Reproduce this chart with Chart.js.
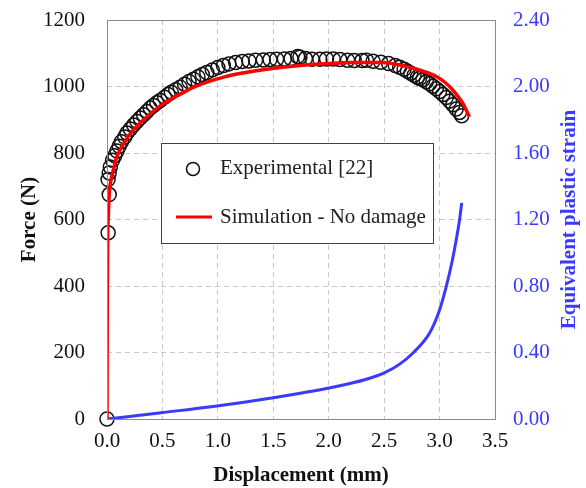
<!DOCTYPE html>
<html>
<head>
<meta charset="utf-8">
<script src="https://cdn.jsdelivr.net/npm/chart.js@4"></script>
<style>
  html, body { margin: 0; padding: 0; background: #fff; }
  #wrap { width: 586px; height: 488px; }
</style>
</head>
<body>
<div id="wrap"><canvas id="chart"></canvas></div>
<script>
// Experimental [22] - force (N) vs displacement (mm)
var expX = [0, 0.01, 0.02, 0.01, 0.02, 0.03, 0.05, 0.07, 0.09, 0.11, 0.13, 0.16, 0.18, 0.21, 0.24, 0.27, 0.30, 0.33, 0.36, 0.39, 0.42, 0.45, 0.48, 0.52, 0.55, 0.58, 0.62, 0.66, 0.70, 0.74, 0.78, 0.82, 0.86, 0.90, 0.95, 1.00, 1.05, 1.10, 1.16, 1.22, 1.28, 1.34, 1.41, 1.47, 1.53, 1.60, 1.66, 1.72, 1.74, 1.79, 1.85, 1.92, 1.98, 2.04, 2.10, 2.17, 2.23, 2.30, 2.34, 2.40, 2.47, 2.54, 2.60, 2.64, 2.68, 2.71, 2.74, 2.77, 2.80, 2.82, 2.85, 2.88, 2.91, 2.94, 2.97, 3.00, 3.03, 3.06, 3.09, 3.12, 3.15, 3.18, 3.20];
var expF = [0, 560, 675, 720, 740, 758, 778, 792, 806, 820, 834, 848, 860, 872, 884, 895, 905, 915, 925, 935, 943, 951, 958, 968, 976, 983, 990, 998, 1007, 1015, 1022, 1029, 1036, 1042, 1050, 1057, 1063, 1068, 1072, 1075, 1077, 1079, 1080, 1081, 1082, 1083, 1084, 1090, 1088, 1084, 1082, 1082, 1083, 1083, 1081, 1079, 1078, 1078, 1079, 1076, 1073, 1069, 1063, 1058, 1052, 1046, 1040, 1034, 1028, 1024, 1020, 1014, 1008, 1001, 993, 985, 976, 967, 956, 945, 932, 922, 912];

// Simulation - No damage
var simX = [0, 0.003, 0.006, 0.012, 0.018, 0.027, 0.04, 0.057, 0.08, 0.117, 0.19, 0.31, 0.49, 0.65, 0.79, 1.06, 1.25, 1.44, 1.74, 2.0, 2.19, 2.49, 2.62, 2.76, 2.87, 2.97, 3.05, 3.12, 3.21, 3.27];
var simF = [0, 400, 540, 610, 665, 699, 725, 749, 780, 809, 849, 894, 944, 975, 999, 1029, 1042, 1052, 1063, 1069, 1072, 1072, 1066, 1055, 1044, 1030, 1012, 989, 949, 909];

// Equivalent plastic strain (right axis)
var strainX = [0, 0.49, 0.99, 1.50, 2.0, 2.34, 2.51, 2.64, 2.76, 2.91, 3.0, 3.06, 3.11, 3.15, 3.18, 3.2];
var strainY = [0, 0.038, 0.078, 0.128, 0.186, 0.239, 0.280, 0.330, 0.397, 0.517, 0.656, 0.796, 0.938, 1.077, 1.197, 1.30];

var legendLabels = ['Experimental [22]', 'Simulation - No damage'];
var rightTitle = 'Equivalent plastic strain';

var serif = '"Liberation Serif", "Times New Roman", serif';
var blue = '#3a3aff';

function pts(xs, ys) {
    return xs.map(function (x, i) { return { x: x, y: ys[i] }; });
}

// cadre gris, légende et titre de droite
var framePlugin = {
    id: 'frame',
    afterDraw: function (chart) {
        var ctx = chart.ctx, a = chart.chartArea;
        ctx.save();
        ctx.strokeStyle = '#8a8a8a';
        ctx.lineWidth = 1;
        ctx.strokeRect(a.left + 0.5, a.top + 0.5, a.right - a.left, a.bottom - a.top);

        // légende
        ctx.fillStyle = '#fff';
        ctx.fillRect(161, 143, 272, 100);
        ctx.strokeStyle = '#404040';
        ctx.strokeRect(161.5, 143.5, 272, 100);
        ctx.beginPath();
        ctx.arc(193, 169, 6.5, 0, Math.PI * 2);
        ctx.strokeStyle = '#111';
        ctx.lineWidth = 1.5;
        ctx.stroke();
        ctx.beginPath();
        ctx.moveTo(176, 217);
        ctx.lineTo(212, 217);
        ctx.strokeStyle = '#ff0000';
        ctx.lineWidth = 3;
        ctx.stroke();
        ctx.fillStyle = '#222';
        ctx.font = '21px ' + serif;
        ctx.textBaseline = 'middle';
        ctx.fillText(legendLabels[0], 220, 168);
        ctx.fillText(legendLabels[1], 220, 217);

        // titre axe droit, lu de bas en haut
        ctx.translate(570, (a.top + a.bottom) / 2);
        ctx.rotate(-Math.PI / 2);
        ctx.textAlign = 'center';
        ctx.fillStyle = blue;
        ctx.font = 'bold 21px ' + serif;
        ctx.fillText(rightTitle, 0, 0);
        ctx.restore();
    }
};

var gridColor = function (c) {
    var t = c.tick ? c.tick.value : null;
    var s = c.scale;
    if (t === s.min || t === s.max) return 'rgba(0,0,0,0)';
    return '#c8c8c8';
};

// largeur fixe, sans marge ajoutée pour les étiquettes
function fixWidth(w) {
    return function (s) {
        s.width = w;
        s.paddingTop = 0;
        s.paddingBottom = 0;
    };
}

new Chart(document.getElementById('chart'), {
    type: 'scatter',
    data: {
        datasets: [
            {
                label: legendLabels[1],
                data: pts(simX, simF),
                showLine: true,
                borderColor: '#ff0000',
                borderWidth: 3.5,
                pointRadius: 0,
                cubicInterpolationMode: 'monotone',
                yAxisID: 'y'
            },
            {
                label: 'strain',
                data: pts(strainX, strainY),
                showLine: true,
                borderColor: blue,
                borderWidth: 3,
                pointRadius: 0,
                cubicInterpolationMode: 'monotone',
                yAxisID: 'y1'
            },
            {
                label: legendLabels[0],
                data: pts(expX, expF),
                showLine: false,
                pointRadius: 7,
                pointBorderWidth: 1.5,
                pointBorderColor: '#111',
                pointBackgroundColor: 'rgba(0,0,0,0)',
                clip: false,
                yAxisID: 'y'
            }
        ]
    },
    options: {
        responsive: true,
        maintainAspectRatio: false,
        animation: false,
        layout: { padding: { top: 20, left: 0, right: 0, bottom: 0 } },
        plugins: {
            legend: { display: false },
            tooltip: { enabled: false }
        },
        scales: {
            x: {
                type: 'linear',
                min: 0, max: 3.5,
                ticks: {
                    stepSize: 0.5,
                    padding: 10,
                    color: '#111',
                    font: { family: serif, size: 21 },
                    callback: function (v) { return v.toFixed(1); }
                },
                grid: { color: gridColor, drawTicks: false, tickLength: 0 },
                border: { display: false, dash: [5, 4] },
                title: {
                    display: true,
                    text: 'Displacement (mm)',
                    color: '#111',
                    padding: { top: 0, bottom: 0 },
                    font: { family: serif, size: 21, weight: 'bold' }
                },
                afterFit: function (s) { s.height = 69; }
            },
            y: {
                position: 'left',
                min: 0, max: 1200,
                ticks: {
                    stepSize: 200,
                    padding: 22,
                    color: '#111',
                    font: { family: serif, size: 21 },
                    callback: function (v) { return String(v); }
                },
                grid: { color: gridColor, drawTicks: false, tickLength: 0 },
                border: { display: false, dash: [5, 4] },
                title: {
                    display: true,
                    text: 'Force (N)',
                    color: '#111',
                    padding: { top: 17, bottom: 0 },
                    font: { family: serif, size: 21, weight: 'bold' }
                },
                afterFit: fixWidth(107)
            },
            y1: {
                position: 'right',
                min: 0, max: 2.4,
                ticks: {
                    stepSize: 0.4,
                    padding: 18,
                    color: blue,
                    font: { family: serif, size: 21 },
                    callback: function (v) { return v.toFixed(2); }
                },
                grid: { display: false, drawTicks: false },
                border: { display: false },
                afterFit: fixWidth(91)
            }
        }
    },
    plugins: [framePlugin]
});
</script>
</body>
</html>
